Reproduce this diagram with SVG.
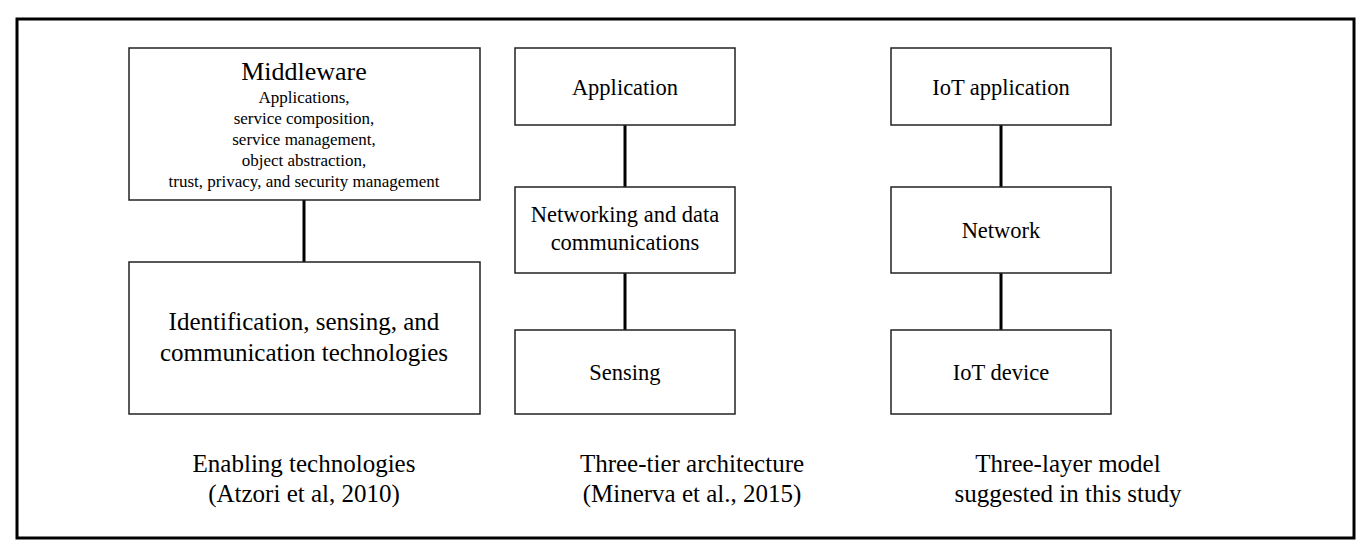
<svg xmlns="http://www.w3.org/2000/svg" width="1371" height="556" viewBox="0 0 1371 556">
<style>
.b{fill:#fff;stroke:#222;stroke-width:1.5}
.c{stroke:#000;stroke-width:3}
text{font-family:"Liberation Serif","Times New Roman",serif;fill:#000;text-anchor:middle}
.l{font-size:25px}
.t{font-size:22.5px}
.m{font-size:26px}
.s{font-size:17px}
</style>
<rect x="0" y="0" width="1371" height="556" fill="#fff"/>
<rect x="17" y="19" width="1337" height="519" fill="none" stroke="#000" stroke-width="3"/>
<g id="connectors">
<line class="c" x1="304" y1="200" x2="304" y2="262"/>
<line class="c" x1="625" y1="125" x2="625" y2="187"/>
<line class="c" x1="625" y1="273" x2="625" y2="330"/>
<line class="c" x1="1001" y1="125" x2="1001" y2="187"/>
<line class="c" x1="1001" y1="273" x2="1001" y2="330"/>
</g>
<g id="middleware"><rect class="b" x="129" y="48" width="351" height="152"/>
<text class="m" x="304" y="80">Middleware</text>
<text class="s" x="304" y="103">Applications,</text>
<text class="s" x="304" y="124">service composition,</text>
<text class="s" x="304" y="145">service management,</text>
<text class="s" x="304" y="166">object abstraction,</text>
<text class="s" x="304" y="187">trust, privacy, and security management</text></g>
<g id="identification"><rect class="b" x="129" y="262" width="351" height="152"/>
<text class="l" x="304" y="330">Identification, sensing, and</text>
<text class="l" x="304" y="361">communication technologies</text></g>
<g id="application"><rect class="b" x="515" y="48" width="220" height="77"/>
<text class="t" x="625" y="95">Application</text></g>
<g id="networking"><rect class="b" x="515" y="187" width="220" height="86"/>
<text class="t" x="625" y="222">Networking and data</text>
<text class="t" x="625" y="250">communications</text></g>
<g id="sensing"><rect class="b" x="515" y="330" width="220" height="84"/>
<text class="t" x="625" y="380">Sensing</text></g>
<g id="iotapp"><rect class="b" x="891" y="48" width="220" height="77"/>
<text class="t" x="1001" y="95">IoT application</text></g>
<g id="network"><rect class="b" x="891" y="187" width="220" height="86"/>
<text class="t" x="1001" y="238">Network</text></g>
<g id="iotdevice"><rect class="b" x="891" y="330" width="220" height="84"/>
<text class="t" x="1001" y="380">IoT device</text></g>
<g id="labels">
<text class="l" x="304" y="472">Enabling technologies</text>
<text class="l" x="304" y="502">(Atzori et al, 2010)</text>
<text class="l" x="692" y="472">Three-tier architecture</text>
<text class="l" x="692" y="502">(Minerva et al., 2015)</text>
<text class="l" x="1068" y="472">Three-layer model</text>
<text class="l" x="1068" y="502">suggested in this study</text>
</g>
</svg>
